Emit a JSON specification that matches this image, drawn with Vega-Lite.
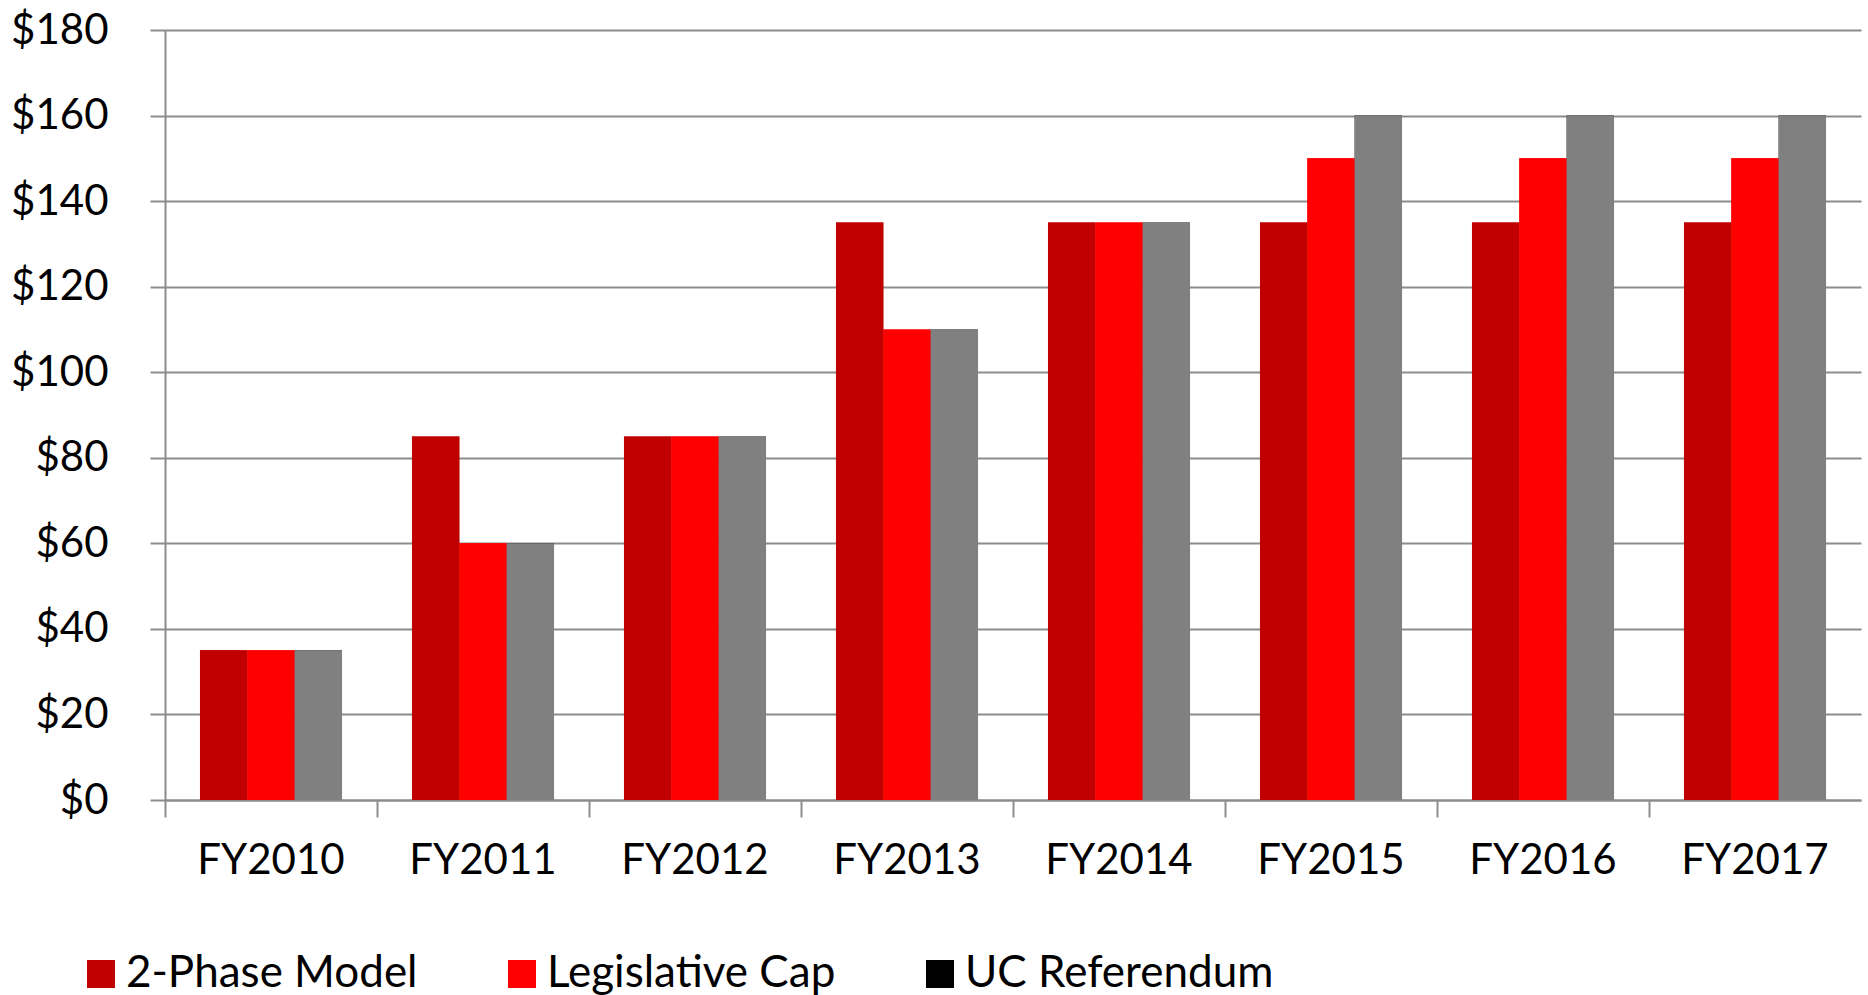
{
  "$schema": "https://vega.github.io/schema/vega-lite/v6.json",
  "autosize": {"type": "none"},
  "padding": {"left": 165, "top": 30, "right": 7, "bottom": 195},
  "width": 1696,
  "height": 770,
  "config": {
    "font": "Lato",
    "view": {"stroke": null},
    "axis": {"labelFont": "Lato", "labelColor": "#000000", "domainColor": "#8c8c8c", "tickColor": "#8c8c8c", "gridColor": "#8c8c8c", "domainWidth": 2, "tickWidth": 2, "gridWidth": 2}
  },
  "data": {
    "values": [
      {"year": "FY2010", "series": "2-Phase Model", "value": 35},
      {"year": "FY2010", "series": "Legislative Cap", "value": 35},
      {"year": "FY2010", "series": "UC Referendum", "value": 35},
      {"year": "FY2011", "series": "2-Phase Model", "value": 85},
      {"year": "FY2011", "series": "Legislative Cap", "value": 60},
      {"year": "FY2011", "series": "UC Referendum", "value": 60},
      {"year": "FY2012", "series": "2-Phase Model", "value": 85},
      {"year": "FY2012", "series": "Legislative Cap", "value": 85},
      {"year": "FY2012", "series": "UC Referendum", "value": 85},
      {"year": "FY2013", "series": "2-Phase Model", "value": 135},
      {"year": "FY2013", "series": "Legislative Cap", "value": 110},
      {"year": "FY2013", "series": "UC Referendum", "value": 110},
      {"year": "FY2014", "series": "2-Phase Model", "value": 135},
      {"year": "FY2014", "series": "Legislative Cap", "value": 135},
      {"year": "FY2014", "series": "UC Referendum", "value": 135},
      {"year": "FY2015", "series": "2-Phase Model", "value": 135},
      {"year": "FY2015", "series": "Legislative Cap", "value": 150},
      {"year": "FY2015", "series": "UC Referendum", "value": 160},
      {"year": "FY2016", "series": "2-Phase Model", "value": 135},
      {"year": "FY2016", "series": "Legislative Cap", "value": 150},
      {"year": "FY2016", "series": "UC Referendum", "value": 160},
      {"year": "FY2017", "series": "2-Phase Model", "value": 135},
      {"year": "FY2017", "series": "Legislative Cap", "value": 150},
      {"year": "FY2017", "series": "UC Referendum", "value": 160}
    ]
  },
  "encoding": {
    "x": {
      "field": "year", "type": "nominal", "title": null,
      "scale": {"paddingInner": 0.33, "paddingOuter": 0.165},
      "axis": {"labelAngle": 0, "labelFontSize": 42, "tickSize": 17, "labelPadding": 23, "bandPosition": -0.246, "domainWidth": 2}
    },
    "xOffset": {"field": "series", "type": "nominal", "sort": ["2-Phase Model", "Legislative Cap", "UC Referendum"], "scale": {"paddingInner": 0, "paddingOuter": 0}},
    "y": {
      "field": "value", "type": "quantitative", "title": null,
      "scale": {"domain": [0, 180], "nice": false},
      "axis": {"values": [0, 20, 40, 60, 80, 100, 120, 140, 160, 180], "format": "$,.0f", "labelFontSize": 42, "tickSize": 15, "labelPadding": 42, "grid": true}
    }
  },
  "layer": [
    {
      "mark": {"type": "bar"},
      "encoding": {
        "fill": {
          "field": "series", "type": "nominal",
          "scale": {"domain": ["2-Phase Model", "Legislative Cap", "UC Referendum"], "range": ["#C00000", "#FF0000", "#000000"]},
          "legend": {
            "title": null, "orient": "none", "direction": "horizontal", "legendX": -86, "legendY": 922,
            "symbolType": "square", "symbolSize": 784, "symbolStrokeWidth": 0,
            "labelFontSize": 44, "labelFont": "Lato", "labelColor": "#000000", "labelOffset": 3, "columnPadding": 82, "labelLimit": 500
          }
        }
      }
    },
    {
      "mark": {"type": "bar"},
      "encoding": {
        "color": {
          "field": "series", "type": "nominal",
          "scale": {"domain": ["2-Phase Model", "Legislative Cap", "UC Referendum"], "range": ["#C00000", "#FF0000", "#808080"]},
          "legend": null
        }
      }
    }
  ]
}
